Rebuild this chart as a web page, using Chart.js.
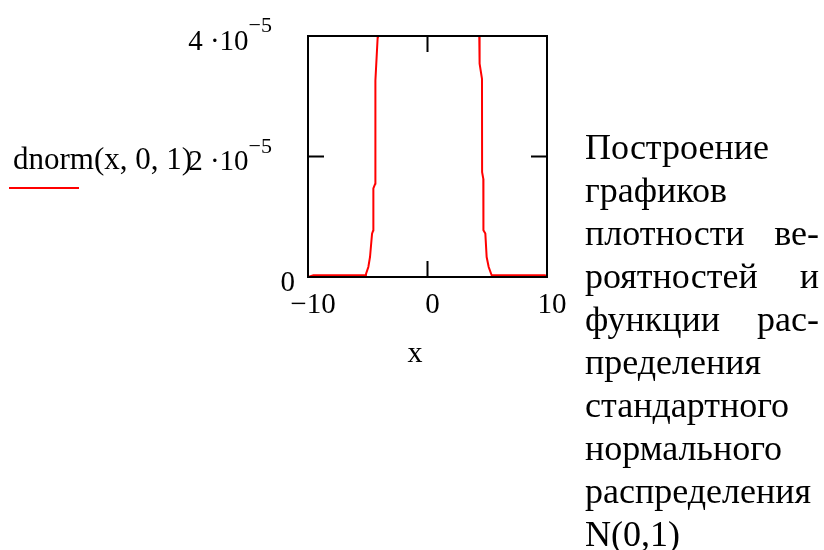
<!DOCTYPE html>
<html>
<head>
<meta charset="utf-8">
<script src="https://cdn.jsdelivr.net/npm/chart.js@4"></script>
<style>
html,body{margin:0;padding:0;background:#fff;}
#wrap{position:relative;width:824px;height:550px;}
canvas{display:block;}
</style>
</head>
<body>
<div id="wrap"><canvas id="c" width="824" height="550"></canvas></div>
<script>
// ---- data ----
const leftX  = [-10, -9.55, -5.15, -5.14, -4.95, -4.81, -4.64, -4.54, -4.53, -4.37, -4.36, -4.17, -4.15];
const leftY  = [0, 2.8e-7, 2.8e-7, 5.6e-7, 1.66e-6, 3.32e-6, 7.2e-6, 7.75e-6, 1.47e-5, 1.55e-5, 3.26e-5, 3.98e-5, 4.2e-5];
const rightX = [4.32, 4.33, 4.39, 4.56, 4.57, 4.67, 4.68, 4.84, 4.95, 5.12, 5.37, 9.83, 10];
const rightY = [4.2e-5, 3.98e-5, 3.54e-5, 3.29e-5, 1.74e-5, 1.63e-5, 7.75e-6, 7.2e-6, 3.32e-6, 1.66e-6, 2.8e-7, 2.8e-7, 0];

const xTicks = [-10, 0, 10];
const xTickLabels = ["\u221210", "0", "10"];
const yTicks = [0, 2e-5, 4e-5];
const yTickMantissas = ["0", "2 \u00b710", "4 \u00b710"];
const yTickExponents = ["", "\u22125", "\u22125"];
const xAxisTitle = "x";
const seriesLabel = "dnorm(x, 0, 1)";
const noteLines = ["Построение", "графиков", "плотности ве-", "роятностей и", "функции рас-", "пределения", "стандартного", "нормального", "распределения", "N(0,1)"];
const noteJustified = [false, false, true, true, true, false, false, false, false, false];

const toPts = (xs, ys) => xs.map((x, i) => ({x: x, y: ys[i]}));

const FONT = '"Liberation Serif", "Times New Roman", serif';

const decor = {
  id: 'decor',
  afterDatasetsDraw(chart) {
    const ctx = chart.ctx;
    const a = chart.chartArea;
    const sx = chart.scales.x, sy = chart.scales.y;
    ctx.save();
    // frame
    ctx.strokeStyle = '#000';
    ctx.lineWidth = 2;
    ctx.strokeRect(a.left, a.top, a.right - a.left, a.bottom - a.top);
    // inner tick marks on all four sides
    const tl = 16;
    ctx.beginPath();
    xTicks.forEach(v => {
      const p = sx.getPixelForValue(v);
      ctx.moveTo(p, a.bottom); ctx.lineTo(p, a.bottom - tl);
      ctx.moveTo(p, a.top); ctx.lineTo(p, a.top + tl);
    });
    yTicks.forEach(v => {
      const p = sy.getPixelForValue(v);
      ctx.moveTo(a.left, p); ctx.lineTo(a.left + tl, p);
      ctx.moveTo(a.right, p); ctx.lineTo(a.right - tl, p);
    });
    ctx.stroke();

    ctx.fillStyle = '#000';
    ctx.textBaseline = 'alphabetic';
    // x tick labels
    ctx.font = '29px ' + FONT;
    ctx.textAlign = 'center';
    xTicks.forEach((v, i) => {
      ctx.fillText(xTickLabels[i], sx.getPixelForValue(v) + 5, a.bottom + 36);
    });
    // y tick labels
    yTicks.forEach((v, i) => {
      const base = sy.getPixelForValue(v) + 13.5;
      if (yTickExponents[i]) {
        ctx.font = '22px ' + FONT;
        const ew = ctx.measureText(yTickExponents[i]).width;
        const right = a.left - 36;
        ctx.textAlign = 'right';
        ctx.fillText(yTickExponents[i], right, base - 17.5);
        ctx.font = '29px ' + FONT;
        ctx.fillText(yTickMantissas[i], right - ew, base);
      } else {
        ctx.font = '29px ' + FONT;
        ctx.textAlign = 'right';
        ctx.fillText(yTickMantissas[i], a.left - 13, base);
      }
    });
    // axis title
    ctx.font = '30px ' + FONT;
    ctx.textAlign = 'center';
    ctx.fillText(xAxisTitle, 415, a.bottom + 85);
    // series label + legend line
    ctx.font = '31px ' + FONT;
    ctx.textAlign = 'left';
    ctx.fillText(seriesLabel, 13, 169);
    ctx.strokeStyle = '#ff0000';
    ctx.lineWidth = 2;
    ctx.beginPath();
    ctx.moveTo(9, 188); ctx.lineTo(79, 188);
    ctx.stroke();
    // note paragraph
    ctx.font = '36px ' + FONT;
    const L = 585, R = 819;
    noteLines.forEach((t, i) => {
      const y = 158.5 + i * 43;
      if (noteJustified[i]) {
        const parts = t.split(' ');
        ctx.textAlign = 'left';
        ctx.fillText(parts[0], L, y);
        ctx.textAlign = 'right';
        ctx.fillText(parts[1], R, y);
      } else {
        ctx.textAlign = 'left';
        ctx.fillText(t, L, y);
      }
    });
    ctx.restore();
  }
};

new Chart(document.getElementById('c'), {
  type: 'scatter',
  data: {
    datasets: [
      {data: toPts(leftX, leftY), showLine: true, borderColor: '#ff0000', borderWidth: 2, pointRadius: 0, tension: 0, clip: 0},
      {data: toPts(rightX, rightY), showLine: true, borderColor: '#ff0000', borderWidth: 2, pointRadius: 0, tension: 0, clip: 0}
    ]
  },
  options: {
    responsive: false,
    animation: false,
    devicePixelRatio: 1,
    layout: {padding: {left: 308, right: 277, top: 36, bottom: 273}},
    plugins: {legend: {display: false}, tooltip: {enabled: false}, title: {display: false}},
    events: [],
    scales: {
      x: {type: 'linear', min: -10, max: 10, display: false},
      y: {type: 'linear', min: 0, max: 4e-5, display: false}
    }
  },
  plugins: [decor]
});
</script>
</body>
</html>
